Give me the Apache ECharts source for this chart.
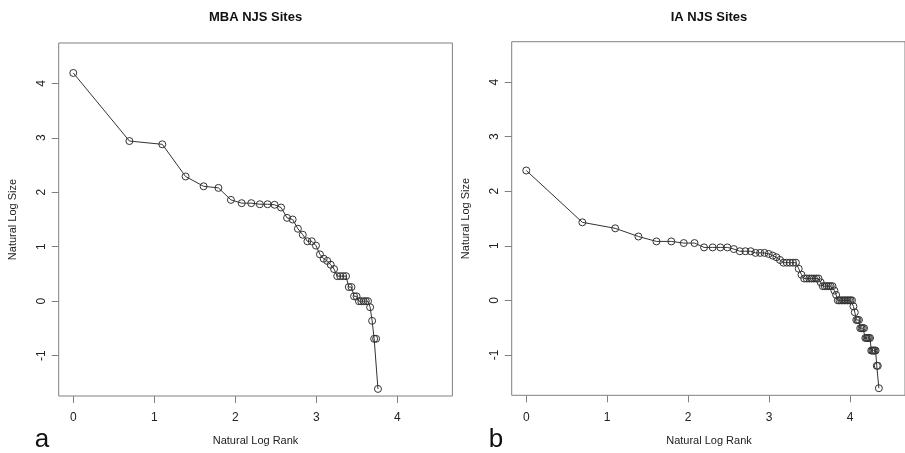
<!DOCTYPE html>
<html>
<head>
<meta charset="utf-8">
<script src="https://cdn.jsdelivr.net/npm/echarts@6/dist/echarts.min.js"></script>
<style>
html,body{margin:0;padding:0;background:#fff;}
#chart{width:905px;height:453px;}
</style>
</head>
<body>
<div id="chart"></div>
<script>
// ---- data ----
const panelTitles = ['MBA NJS Sites', 'IA NJS Sites'];
const panelLetters = ['a', 'b'];
const xAxisTitle = 'Natural Log Rank';
const yAxisTitle = 'Natural Log Size';
const xTicks = [0, 1, 2, 3, 4];
const yTicks = [-1, 0, 1, 2, 3, 4];

const mbaLogRank = [0, 0.693, 1.099, 1.386, 1.609, 1.792, 1.946, 2.079, 2.197, 2.303,
  2.398, 2.485, 2.565, 2.639, 2.708, 2.773, 2.833, 2.890, 2.944, 2.996,
  3.045, 3.091, 3.135, 3.178, 3.219, 3.258, 3.296, 3.332, 3.367, 3.401,
  3.434, 3.466, 3.497, 3.526, 3.555, 3.584, 3.611, 3.638, 3.664, 3.689,
  3.714, 3.738, 3.761];
const mbaLogSize = [4.19, 2.94, 2.88, 2.29, 2.11, 2.08, 1.86, 1.80, 1.80, 1.78,
  1.78, 1.77, 1.72, 1.53, 1.50, 1.33, 1.22, 1.10, 1.10, 1.02,
  0.86, 0.78, 0.74, 0.67, 0.59, 0.46, 0.46, 0.46, 0.46, 0.26,
  0.26, 0.09, 0.09, 0, 0, 0, 0, 0, -0.11, -0.36,
  -0.69, -0.69, -1.61];

const iaLogRank = [0, 0.693, 1.099, 1.386, 1.609, 1.792, 1.946, 2.079, 2.197, 2.303,
  2.398, 2.485, 2.565, 2.639, 2.708, 2.773, 2.833, 2.890, 2.944, 2.996,
  3.045, 3.091, 3.135, 3.178, 3.219, 3.258, 3.296, 3.332, 3.367, 3.401,
  3.434, 3.466, 3.497, 3.526, 3.555, 3.584, 3.611, 3.638, 3.664, 3.689,
  3.714, 3.738, 3.761, 3.784, 3.807, 3.829, 3.850, 3.871, 3.892, 3.912,
  3.932, 3.951, 3.970, 3.989, 4.007, 4.025, 4.043, 4.060, 4.078, 4.094,
  4.111, 4.127, 4.143, 4.159, 4.174, 4.190, 4.205, 4.220, 4.234, 4.248,
  4.263, 4.277, 4.290, 4.304, 4.317, 4.331, 4.344, 4.357];
const iaLogSize = [2.38, 1.43, 1.32, 1.17, 1.08, 1.08, 1.05, 1.05, 0.97, 0.97,
  0.97, 0.97, 0.94, 0.90, 0.90, 0.90, 0.87, 0.87, 0.87, 0.85,
  0.82, 0.79, 0.74, 0.69, 0.69, 0.69, 0.69, 0.69, 0.58, 0.47,
  0.40, 0.40, 0.40, 0.40, 0.40, 0.40, 0.40, 0.33, 0.26, 0.26,
  0.26, 0.26, 0.26, 0.26, 0.18, 0.10, 0, 0, 0, 0,
  0, 0, 0, 0, 0, 0, -0.11, -0.22, -0.36, -0.36,
  -0.36, -0.51, -0.51, -0.51, -0.51, -0.69, -0.69, -0.69, -0.69, -0.69,
  -0.92, -0.92, -0.92, -0.92, -0.92, -1.20, -1.20, -1.61];

// ---- chart ----
const FONT = "'Liberation Sans', Arial, Helvetica, sans-serif";
const BOX = '#808080';
const INK = '#222';
const grids = [
  { left: 58.7, top: 43, width: 393.7, height: 353 },
  { left: 511.7, top: 41.7, width: 394.6, height: 353.6 }
];

function xAx(i) {
  return {
    type: 'value', gridIndex: i, min: -0.18, max: 4.68, position: 'bottom',
    axisLine: { show: false, onZero: false },
    axisTick: { show: true, length: 7, customValues: xTicks, lineStyle: { color: BOX, width: 1 } },
    axisLabel: { customValues: xTicks, margin: 16, fontSize: 12, color: INK, fontFamily: FONT },
    splitLine: { show: false }
  };
}
function yAx(i) {
  return {
    type: 'value', gridIndex: i, min: -1.74, max: 4.74, position: 'left',
    axisLine: { show: false, onZero: false },
    axisTick: { show: true, length: 7, customValues: yTicks, lineStyle: { color: BOX, width: 1 } },
    axisLabel: { customValues: yTicks, margin: 11, rotate: 90, fontSize: 12, color: INK, fontFamily: FONT },
    splitLine: { show: false }
  };
}
function ser(i, xs, ys) {
  return {
    type: 'line', xAxisIndex: i, yAxisIndex: i,
    data: xs.map((x, k) => [x, ys[k]]),
    symbol: 'circle', symbolSize: 7, showSymbol: true,
    lineStyle: { color: '#333', width: 1 },
    itemStyle: { color: 'rgba(0,0,0,0)', borderColor: '#333', borderWidth: 1 },
    emphasis: { disabled: true },
    animation: false
  };
}
const texts = [];
grids.forEach((g, i) => {
  const cx = g.left + g.width / 2;
  const cy = g.top + g.height / 2;
  texts.push({ type: 'text', x: cx, y: 17, style: { text: panelTitles[i], fill: '#111', font: 'bold 13px ' + FONT, textAlign: 'center', textVerticalAlign: 'middle' } });
  texts.push({ type: 'text', x: cx, y: 441, style: { text: xAxisTitle, font: '11px ' + FONT, fill: INK, textAlign: 'center', textVerticalAlign: 'middle' } });
  texts.push({ type: 'text', x: g.left - 46, y: cy, rotation: Math.PI / 2, style: { text: yAxisTitle, font: '11px ' + FONT, fill: INK, textAlign: 'center', textVerticalAlign: 'middle' } });
});
texts.push({ type: 'text', x: 42, y: 440, style: { text: panelLetters[0], font: '26px ' + FONT, fill: '#111', textAlign: 'center', textVerticalAlign: 'middle' } });
texts.push({ type: 'text', x: 496, y: 440, style: { text: panelLetters[1], font: '26px ' + FONT, fill: '#111', textAlign: 'center', textVerticalAlign: 'middle' } });

const chart = echarts.init(document.getElementById('chart'), null, { renderer: 'canvas' });
chart.setOption({
  animation: false,
  backgroundColor: '#fff',
  grid: grids.map(g => Object.assign({ show: true, borderColor: BOX, borderWidth: 1, backgroundColor: 'transparent', containLabel: false }, g)),
  xAxis: [xAx(0), xAx(1)],
  yAxis: [yAx(0), yAx(1)],
  series: [ser(0, mbaLogRank, mbaLogSize), ser(1, iaLogRank, iaLogSize)],
  graphic: texts
});
</script>
</body>
</html>
